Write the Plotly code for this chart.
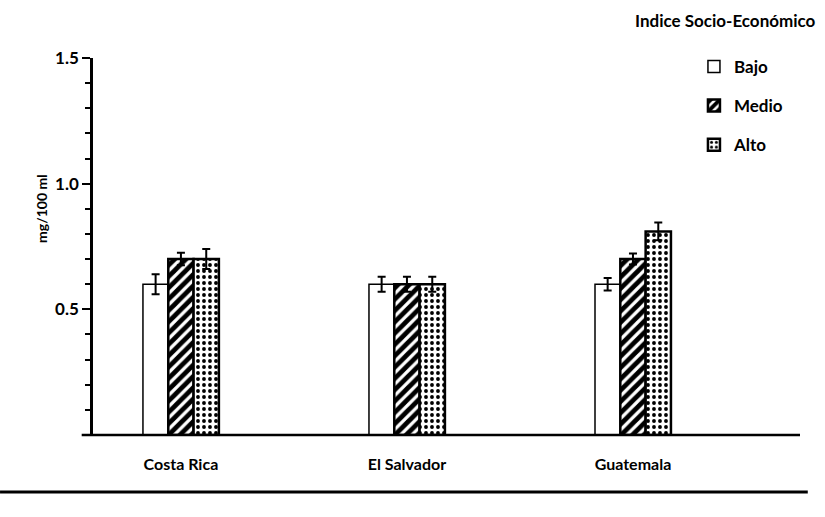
import plotly.graph_objects as go

countries = ["Costa Rica", "El Salvador", "Guatemala"]
levels = ["Bajo", "Medio", "Alto"]
bajo = [0.60, 0.60, 0.60]
bajo_err = [0.04, 0.03, 0.025]
medio = [0.70, 0.60, 0.70]
medio_err = [0.025, 0.03, 0.022]
alto = [0.70, 0.60, 0.81]
alto_err = [0.04, 0.03, 0.035]
y_tickvals = [0.5, 1.0, 1.5]
y_ticktext = ["0.5", "1.0", "1.5"]

FONT = "Lato, sans-serif"
xpos = list(range(len(countries)))

series = [
    (levels[0], bajo, bajo_err, dict(color="white", line=dict(color="black", width=1.5))),
    (levels[1], medio, medio_err, dict(color="white", line=dict(color="black", width=2.5),
                                       pattern=dict(shape="/", fgcolor="black", bgcolor="white",
                                                    size=8, solidity=0.6, fgopacity=1))),
    (levels[2], alto, alto_err, dict(color="white", line=dict(color="black", width=2.5),
                                     pattern=dict(shape=".", fgcolor="black", bgcolor="white",
                                                  size=6, solidity=0.32, fgopacity=1))),
]

fig = go.Figure()
for name, vals, errs, marker in series:
    fig.add_trace(go.Bar(
        x=xpos, y=vals, name=name, marker=marker, legendgroup=name,
        error_y=dict(type="data", array=errs, color="black", thickness=2, width=4),
    ))

fig.update_layout(
    width=825, height=517,
    margin=dict(l=93, r=25, t=58, b=82, autoexpand=False),
    paper_bgcolor="white", plot_bgcolor="white",
    barmode="group", bargap=0.664, bargroupgap=0,
    font=dict(family=FONT, color="black", size=15, weight="bold"),
    showlegend=True,
    legend=dict(x=0.85, y=1.024, xanchor="left", yanchor="top",
                font=dict(size=17, family=FONT, weight="bold"), tracegroupgap=14,
                bgcolor="rgba(0,0,0,0)", itemwidth=30),
    xaxis=dict(range=[-0.389, 2.739], tickvals=xpos, ticktext=countries,
               showgrid=False, zeroline=False, showline=False, ticks="",
               ticklabelstandoff=18, tickfont=dict(size=16, family=FONT, weight="bold")),
    yaxis=dict(range=[0, 1.5], tickvals=y_tickvals, ticktext=y_ticktext,
               showgrid=False, zeroline=False, showline=True, linecolor="black", linewidth=2.5,
               ticks="outside", ticklen=8, tickwidth=2, tickcolor="black",
               minor=dict(dtick=0.1, tick0=0, ticks="outside", ticklen=5, tickwidth=2, tickcolor="black"),
               tickfont=dict(size=17, family=FONT, weight="bold")),
    shapes=[
        dict(type="line", xref="paper", yref="paper", x0=-0.016, x1=1.0, y0=0, y1=0,
             line=dict(color="black", width=2.5)),
        dict(type="line", xref="paper", yref="paper", x0=-0.1315, x1=1.011, y0=-0.151, y1=-0.151,
             line=dict(color="black", width=3)),
    ],
    annotations=[
        dict(text="Indice Socio-Económico", xref="paper", yref="paper", x=1.025, y=1.10,
             xanchor="right", yanchor="middle", showarrow=False,
             font=dict(size=17, family=FONT, weight="bold")),
        dict(text="mg/100 ml", xref="paper", yref="paper", x=-0.072, y=0.6,
             xanchor="center", yanchor="middle", textangle=-90, showarrow=False,
             font=dict(size=14, family=FONT, weight="bold", color="black")),
    ],
)

fig.write_html("out.html", post_script="document.body.style.margin='0';",
               config={"displayModeBar": False})
